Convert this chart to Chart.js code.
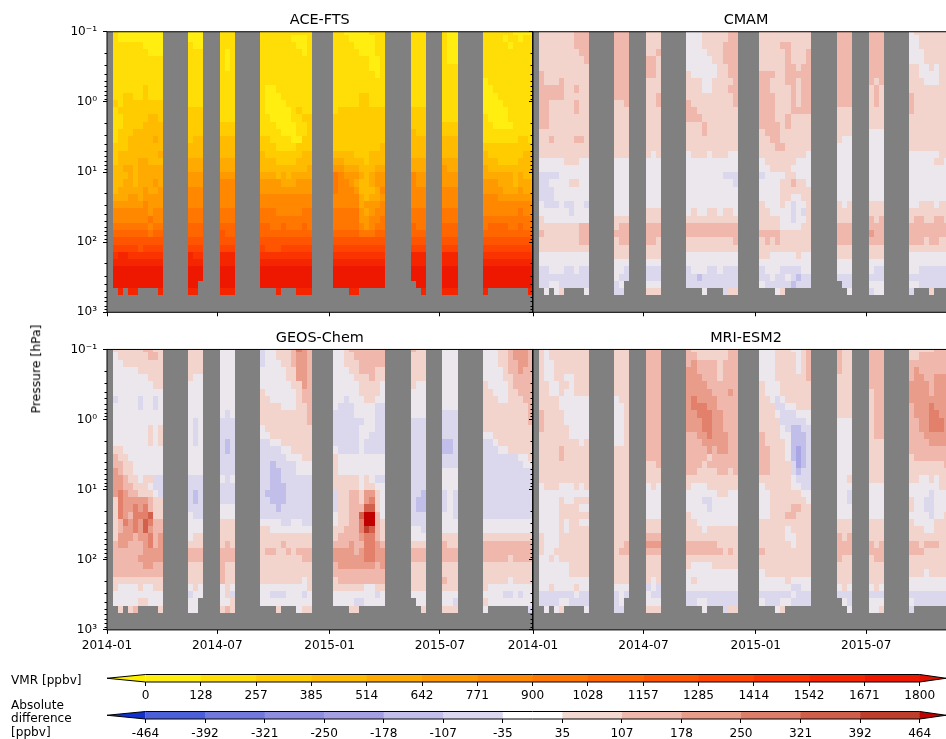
<!DOCTYPE html>
<html><head><meta charset="utf-8">
<script src="https://cdn.jsdelivr.net/npm/chart.js@4"></script>
<style>
html,body{margin:0;padding:0;background:#fff;overflow:hidden;width:946px;height:739px}
#page{position:relative;width:946px;height:739px;overflow:hidden;font-family:"DejaVu Sans",sans-serif;font-size:12.1px;color:#000}
.box{position:absolute}
.box canvas{display:block}
.lab{position:absolute;white-space:nowrap;line-height:13.7px}
</style></head><body>
<div id="page">
<div class="box" style="left:0;top:0;width:560px;height:340px"><canvas id="c0"></canvas></div>
<div class="box" style="left:480px;top:0;width:500px;height:340px"><canvas id="c1"></canvas></div>
<div class="box" style="left:0;top:320px;width:560px;height:340px"><canvas id="c2"></canvas></div>
<div class="box" style="left:480px;top:320px;width:500px;height:340px"><canvas id="c3"></canvas></div>
<div class="box" style="left:0;top:666px;width:946px;height:36px"><canvas id="cb0"></canvas></div>
<div class="box" style="left:0;top:703px;width:946px;height:36px"><canvas id="cb1"></canvas></div>
<div class="lab" style="left:36px;top:369px;font-size:12.4px;transform:translate(-50%,-50%) rotate(-90deg)">Pressure [hPa]</div>
<div class="lab" style="left:11px;top:674px">VMR [ppbv]</div>
<div class="lab" style="left:11px;top:698.5px">Absolute<br>difference<br>[ppbv]</div>
</div>
<script>
// ---- time axis (days since 2014-01-01) ----
const xTickLabels = ["2014-01","2014-07","2015-01","2015-07"];
const xTickDays = [0,181,365,546];
const xMaxDays = 698;
// measurement windows, days since start; column counts per window
const windowStart = [9.5,133,185,251,371,498,550,616];
const windowEnd   = [92,158,210,336,456,523,575,698];
const windowCols  = [10,3,3,10,10,3,3,10];
// ---- pressure grid (hPa), edges of the 37 rows ----
const pressureEdges = [0.1,0.1103,0.1398,0.1773,0.2249,0.2852,0.3618,0.4587,0.5816,0.7376,0.9354,1.186,1.504,1.908,2.420,3.068,3.891,4.934,6.257,7.935,10.06,12.76,16.19,20.53,26.04,33.02,41.87,53.10,67.34,85.40,108.3,137.3,174.2,220.9,280.1,355.2,450.5,571.3];
const yMajorTicks = [0.1,1,10,100,1000];
const yMajorLabels = ["10⁻¹","10⁰","10¹","10²","10³"];
const yMinorTicks = [0.2,0.3,0.4,0.5,0.6,0.7,0.8,0.9,2,3,4,5,6,7,8,9,20,30,40,50,60,70,80,90,200,300,400,500,600,700,800,900];
// ---- colour scales ----
const vmrBounds = [0,128.57,257.14,385.71,514.29,642.86,771.43,900,1028.57,1157.14,1285.71,1414.29,1542.86,1671.43,1800];
const vmrTickLabels = ["0","128","257","385","514","642","771","900","1028","1157","1285","1414","1542","1671","1800"];
const vmrColors = ["#FFEE10","#FFDE08","#FFCC00","#FFBB00","#FFAA00","#FF9900","#FF8800","#FF7700","#FF6600","#FF5500","#FF4400","#FB3300","#F52500","#EE1800"];
const vmrOver = "#E01000", vmrUnder = "#FFF000";
const diffBounds = [-464,-392.6,-321.2,-249.8,-178.5,-107.1,-35.7,35.7,107.1,178.5,249.8,321.2,392.6,464];
const diffTickLabels = ["-464","-392","-321","-250","-178","-107","-35","35","107","178","250","321","392","464"];
const diffColors = ["#4A5FD8","#7079DC","#8E8FE0","#A9A6E5","#C1BEEA","#DBD8EE","#ECE7EC","#F3D4CC","#F0B8AC","#EA9C8B","#E2806C","#D2604B","#C33F2D"];
const diffBarColors = ["#4A5FD8","#7079DC","#8E8FE0","#A59FE3","#C3BFEB","#DAD7EE","#FFFFFF","#F3D8D0","#EFB8AC","#E89C8A","#DD7E6A","#CF5F4B","#BE3D2B"];
const diffOver = "#C00000", diffUnder = "#1030D0";
// ---- gridded values: one string per pressure row (top to bottom), one character per
// time column, each character the colour-bin number; "." = no data
const aceFts = [
"1000000000 000 111 1111111111 1100000111 111 100 1111110000",
"1000000000 000 111 1111110001 1110000011 111 100 1111011011",
"1111110000 100 111 1111111001 1111000011 111 100 1111101111",
"1111111000 111 101 1111111101 1111100011 111 100 1111111111",
"1111111111 111 101 1111111111 1111111001 111 100 1111111111",
"1111111111 111 101 1111111111 1111111001 111 111 1111111111",
"1111111111 111 111 1111111111 1111111101 111 111 1111111111",
"1111111111 111 111 1111111111 1111111111 111 111 0111111111",
"1111112111 111 111 1001111111 1111111111 111 111 0011111111",
"1122112111 111 111 1000111111 1111122111 111 111 0001111111",
"2122222222 111 111 1000011111 1111122111 111 111 0000111111",
"1222222222 222 111 1000001211 1222222222 222 111 0000011111",
"1122222332 222 111 1100001122 2222222222 222 111 1000011111",
"1122223333 222 222 1110000112 2222222222 222 222 1100001111",
"1222333333 222 222 1111000112 2222222222 322 222 1111111111",
"1223333343 233 333 2211110022 2222222222 333 333 1111111221",
"2223333333 333 333 2221111222 2222222223 333 333 2222222222",
"2333333334 333 333 3222222233 3333222333 333 333 3222222233",
"2333344333 444 444 3332222333 4433332333 444 444 3332222333",
"3344344444 444 444 3333333334 5544433344 444 544 4333333333",
"3334344444 555 555 4443434444 7655543455 655 555 4444443433",
"3344344454 555 666 5555444555 7665433455 655 555 5554443444",
"3444445445 666 666 5555555555 7666533346 666 666 5555444544",
"4445545555 666 666 6666666666 6666643445 666 666 6665555555",
"5555556555 666 666 6666666666 6666645556 666 666 6666666666",
"6666666566 777 777 7776666677 7777754566 777 777 6666666766",
"6666666766 777 777 7777777777 7777755667 777 777 7777777777",
"7777777677 888 888 8877877787 7777765677 877 888 7888877877",
"8888888788 888 988 8888888888 8888877788 888 888 8888888888",
"9999999999 999 999 9999999999 9999999999 999 999 9999999999",
"aaaaa9aaaa aaa aaa a999aaaaaa aaaaaaaaaa aaa aaa aaaaaaaaaa",
"bccbbbbbbb cbb ccc bbbbbbbbbb bbbbbbbbbb ccc ccc bbbbbbbbbb",
"cccccccccc ccc ccc cccccccccc cccccccccc ccc ccc cccccccccc",
"dddddddddd ddd ddd dddddddddd dddddddddd ddd ddd dddddddddd",
"dddddddddd ddd ddd dddddddddd dddddddddd ddd ddd dddddddddd",
"dddddddddd dd. ddd dddddddddd dddddddddd .dd ddd dddddddddd",
".c.cc....c cc. ccc ...c...ccc ...cc..... ..c ccc c........c"];
const cmam = [
"7777777888 888 777 6667777788 7777777777 888 888 6777777777",
"7777777888 888 777 6667777788 7777777777 888 888 6677777777",
"7777777888 888 777 6667777888 7777887777 888 888 6677777777",
"7777777788 888 778 6666777888 7777787778 888 888 6667777777",
"7777777778 888 887 6666677888 7777787778 888 888 6667777777",
"7777777777 888 887 6666667788 7777788788 888 888 7766767777",
"8777777777 888 887 7666667788 8887788888 888 888 7766667777",
"8777877777 888 777 7776677778 8877788788 888 878 7776667777",
"8888877877 888 777 7776677788 8877778788 888 787 7777777777",
"8888877777 888 778 7777777778 8887778788 888 787 8777777777",
"8877777877 778 778 8777777778 8887778788 888 787 8777777777",
"8877777877 777 777 8877777777 8887778888 777 777 8777777777",
"8877777777 777 777 8887777777 8887787777 777 777 7777777777",
"8877777777 777 777 7778777777 8888787777 777 777 7777777777",
"7777777777 777 777 7778777777 7888777777 777 666 7777777777",
"7787777887 777 777 7777777777 7788777777 766 666 7777777777",
"7777777777 777 777 7777777777 7778877777 666 666 7777777777",
"7777777777 777 767 6777677766 7777777776 666 666 6666667777",
"6666677766 666 666 6666666666 6777777666 666 666 6666677677",
"6666666666 666 666 6666666666 6677776666 666 666 6666666677",
"5555666666 666 666 6666666555 5666677666 666 666 6666666677",
"5566667766 666 666 6666666665 6666778776 666 666 6666666677",
"5556666666 666 666 6666666666 6666777777 666 666 6666666677",
"5556666666 666 666 6666666666 6666776677 666 666 6666666677",
"6555655665 666 666 6666666666 7666765667 767 777 6677767777",
"6666665666 666 777 6766776776 7766665657 777 777 7777777777",
"7666666666 777 777 7777777777 7777665667 777 878 7887788777",
"7777777788 788 888 8888888888 7777666677 888 888 8888888888",
"8777777788 888 888 8888888888 8888777777 888 988 8888888888",
"7777777788 788 887 7777777778 7878777777 888 888 8887887777",
"7777777777 777 777 7777777777 7777777777 777 777 7777777777",
"6666666666 777 777 6666666666 7766666766 777 777 6666666666",
"6666666666 666 666 6666666666 6666666666 666 666 6666666666",
"5566655655 665 555 5666556555 5666555566 666 655 6655555555",
"5555555555 655 555 5545555555 5565565455 555 555 5555555555",
"5566555555 56. 666 5555555555 6555554555 .55 666 6655555555",
".6.67....6 55. 777 ...6...577 ...67..... ..6 566 5...7....5"];
const geosChem = [
"7777778877 777 666 5667778a98 6678888888 877 666 6667789998",
"6777777887 777 666 5667778998 6677888888 777 666 6667789998",
"6677777777 777 666 5666778998 6677788888 777 666 6667788998",
"6666677777 777 666 6666677998 6667788877 777 666 6666788988",
"6666666777 766 666 6666677998 6666777877 777 666 6666778888",
"6666666677 666 666 6666667798 6666677776 766 666 7666678888",
"6666666666 666 666 7666666788 6666677776 666 666 7766677888",
"5666656656 666 666 7766666788 6656667766 666 666 7776677788",
"6666656656 666 666 7777666778 6555666655 666 666 7777777778",
"6666666666 666 656 7777777778 5555666655 666 555 7777777778",
"6666666666 656 555 7777777778 5555556655 555 555 7777777778",
"6666666767 656 555 6777777777 5555566655 555 555 7777777777",
"6666666767 656 555 6677777777 5555566555 555 555 6677777777",
"6666666767 656 545 5566777777 5555565555 555 445 5567777777",
"7766666666 666 545 5555667777 6555565555 555 445 5556677777",
"8776666666 666 555 5555566677 7666666666 555 555 5555555667",
"8877666666 666 555 5545555666 7666666666 555 555 5555555566",
"9877666666 666 555 5544555666 7666666666 555 666 5555555555",
"9987767755 555 656 5544555555 7777767655 555 666 5555555555",
"9988777655 555 555 5544455555 7777767766 555 666 5555555555",
"9a98877765 545 555 5444455555 5778879976 554 565 5555555555",
"7a99999877 545 555 5544455555 5778879a76 544 565 5555555555",
"7a99a9a877 555 666 5554555555 577888bb76 544 565 5555555555",
"7a98aaab77 655 666 5555555555 67788bdd86 555 665 5555555555",
"78a9a9ba88 666 777 6666556655 67788add87 555 666 6666666666",
"7899a9b988 666 777 7766666666 77888acb87 665 666 6666666666",
"7999899a89 677 777 7777777777 788889aa87 666 777 7777777777",
"8998889a89 777 787 7777877777 888988aa98 777 877 8888888888",
"8888889999 888 888 7887787888 999989aa99 888 888 8888888888",
"8888899999 888 888 7777777788 999999aa99 888 888 8888878888",
"8888889988 777 877 7777777777 8999999989 777 777 7777777777",
"8888888888 777 877 7777777777 8888888888 777 777 7777777777",
"7777777777 777 877 7777777767 7888888888 777 877 7777767777",
"7666676677 676 676 6666666667 7777776677 777 777 7666666666",
"6666666666 566 675 6655566656 6666666656 666 666 6666556566",
"6666677666 66. 667 6666666666 6666556666 .66 665 7666666666",
".7.78....7 66. 787 ...7...677 ...77..... ..7 777 6........5"];
const mriEsm2 = [
"7677777777 777 888 8777777788 6667776678 877 888 7777788888",
"7677777777 777 888 8877777788 6667777678 877 888 7788888888",
"7667777777 777 888 8988887888 6667777678 877 888 8888888888",
"7667777777 777 888 9988887888 6667777678 877 888 8988888888",
"7667766777 777 888 9998887888 6667777778 777 888 8998899999",
"7766776777 777 888 9999888888 7666777777 777 888 9999899999",
"7766766777 777 888 9999988898 7666777777 777 788 9999899999",
"7777666666 677 888 9a99998888 7765677777 777 788 9999999999",
"7777666666 667 888 9aaa998888 7775566777 777 788 8999a99999",
"8777766666 667 888 99aaa99888 7776555666 777 788 8999aa9999",
"8777766666 667 888 999aa99888 7777555556 666 788 8899aaa999",
"8777776666 667 888 999aa99888 7777654455 666 788 8899aaa999",
"7777776666 667 888 8899a99988 8777664445 666 788 8889999999",
"7777777767 667 888 8889999988 8777764445 666 777 8888999999",
"7777877777 777 888 8888989988 8877764345 666 777 8888888888",
"7777877777 777 888 8888788888 8877764345 666 777 7888888888",
"7777777777 777 778 8887888888 8877775345 666 777 7777777888",
"7777777777 777 777 8877778878 8877775455 666 777 7777777777",
"7777777777 777 777 7777777777 7777776555 667 777 7766767777",
"6777666767 777 676 7666777777 6777776655 666 666 6666667777",
"6666666666 777 666 6666667766 6677777766 665 666 6666566677",
"6666766777 777 666 6665566666 6677777776 665 666 7665566677",
"6666777766 777 666 6666566666 6677778877 666 666 7665566677",
"6666777777 777 666 7666666666 6677788777 666 666 6666566777",
"6666767766 777 777 7766666666 7777777777 777 777 7666677777",
"6666767777 777 777 7776777777 7777767777 777 777 7776677777",
"7666777777 777 888 7777777777 7777766777 878 777 7777777777",
"7666777777 778 999 8888887777 7777776777 888 878 8878887777",
"7667777777 788 888 8888888787 8777777777 888 888 8887777777",
"6676777777 777 777 7777777777 7777777777 877 788 7777777777",
"6666667777 777 777 7666677777 7777777777 777 777 7777777777",
"6666667777 777 777 6666666666 6777777777 777 777 7776777777",
"6666666666 777 767 6766666666 6666676666 777 777 6666666666",
"6676666766 666 565 6666666666 6666665566 676 676 6666666666",
"5555555655 565 655 5555555555 5555556555 555 555 5555555555",
"5555665555 56. 666 5566555555 6555665555 .65 666 6555555555",
".6.67....6 55. 777 ...6...577 ...67..... ..6 667 5........."];

const FONT = {family:'"DejaVu Sans",sans-serif',size:12.1};
function binValue(ch,bounds){
  const b = parseInt(ch,16);
  if(b >= bounds.length-1) return bounds[bounds.length-1]+1;
  return (bounds[b]+bounds[b+1])/2;
}
function colorFor(v,bounds,colors,over,under){
  if(v>bounds[bounds.length-1]) return over;
  if(v<bounds[0]) return under;
  for(let i=0;i<colors.length;i++) if(v<=bounds[i+1]) return colors[i];
  return over;
}
function buildCells(rows,bounds){
  const cells=[];
  rows.forEach((row,r)=>{
    const s=row.replace(/ /g,'');
    let k=0;
    windowCols.forEach((n,w)=>{
      const step=(windowEnd[w]-windowStart[w])/n;
      for(let j=0;j<n;j++,k++){
        if(s[k]==='.'||s[k]===undefined) continue;
        const t0=windowStart[w]+j*step;
        cells.push({x:t0,t1:t0+step,y:Math.sqrt(pressureEdges[r]*pressureEdges[r+1]),p0:pressureEdges[r],p1:pressureEdges[r+1],v:binValue(s[k],bounds)});
      }
    });
  });
  return cells;
}
const heatPlugin={id:'heat',
  beforeDatasetsDraw(chart,args,o){
    const {ctx,chartArea:a,scales:{x,y}}=chart;
    ctx.save();
    ctx.fillStyle='#808080';
    ctx.fillRect(a.left,a.top,a.right-a.left,a.bottom-a.top);
    ctx.beginPath();ctx.rect(a.left,a.top,a.right-a.left,a.bottom-a.top);ctx.clip();
    chart.data.datasets[0].data.forEach(c=>{
      const x0=Math.round(x.getPixelForValue(c.x)),x1=Math.round(x.getPixelForValue(c.t1));
      const y0=Math.round(y.getPixelForValue(c.p0)),y1=Math.round(y.getPixelForValue(c.p1));
      ctx.fillStyle=colorFor(c.v,o.bounds,o.colors,o.over,o.under);
      ctx.fillRect(x0,y0,x1-x0,y1-y0);
    });
    ctx.restore();
  },
  afterDraw(chart){
    const {ctx,chartArea:a,scales:{y}}=chart;
    ctx.save();
    ctx.strokeStyle='#000';ctx.lineWidth=1;
    ctx.strokeRect(a.left,a.top,a.right-a.left,a.bottom-a.top);
    ctx.beginPath();
    yMinorTicks.forEach(p=>{
      const py=Math.round(y.getPixelForValue(p))+0.5;
      ctx.moveTo(a.left-2.5,py);ctx.lineTo(a.left,py);
    });
    ctx.stroke();
    ctx.restore();
  }
};
function panel(id,title,rows,bounds,colors,over,under,opt){
  return new Chart(document.getElementById(id),{
    type:'scatter',
    data:{datasets:[{data:buildCells(rows,bounds),pointRadius:0,pointHoverRadius:0,showLine:false}]},
    plugins:[heatPlugin],
    options:{
      responsive:false,animation:false,events:[],devicePixelRatio:1,
      layout:{padding:opt.pad},
      plugins:{
        legend:{display:false},tooltip:{enabled:false},
        title:{display:true,text:title,fullSize:false,color:'#000',font:{family:FONT.family,size:14.4,weight:'normal',lineHeight:1.17},padding:{top:0,bottom:3}},
        heat:{bounds,colors,over,under}
      },
      scales:{
        x:{type:'linear',min:0,max:xMaxDays,
          afterBuildTicks:s=>{s.ticks=xTickDays.map(v=>({value:v}));},
          afterFit:s=>{s.height=24;s.paddingLeft=0;s.paddingRight=0;},
          border:{display:false},
          grid:{drawOnChartArea:false,drawTicks:true,tickLength:4,tickColor:'#000',tickWidth:1},
          ticks:{autoSkip:false,maxRotation:0,minRotation:0,color:'#000',font:FONT,padding:5,
            callback:(v,i)=>opt.xLabels?xTickLabels[i]:''}
        },
        y:{type:'logarithmic',reverse:true,min:0.1,max:1000,
          afterBuildTicks:s=>{s.ticks=yMajorTicks.map(v=>({value:v}));},
          afterFit:s=>{s.width=opt.yWidth;s.paddingTop=0;s.paddingBottom=0;},
          border:{display:false},
          grid:{drawOnChartArea:false,drawTicks:true,tickLength:4,tickColor:'#000',tickWidth:1},
          ticks:{autoSkip:false,color:'#000',font:{family:FONT.family,size:12.1},padding:6,
            callback:(v,i)=>opt.yLabels?yMajorLabels[i]:''}
        }
      }
    }
  });
}
const sizes=[[560,340],[500,340],[560,340],[500,340]];
['c0','c1','c2','c3'].forEach((id,i)=>{const c=document.getElementById(id);c.width=sizes[i][0];c.height=sizes[i][1];c.style.width=sizes[i][0]+'px';c.style.height=sizes[i][1]+'px';});
panel('c0','ACE-FTS',aceFts,vmrBounds,vmrColors,vmrOver,vmrUnder,{xLabels:false,yLabels:true,yWidth:50,pad:{left:57,right:27.4,top:11.9,bottom:3.7}});
panel('c1','CMAM',cmam,diffBounds,diffColors,diffOver,diffUnder,{xLabels:false,yLabels:false,yWidth:10,pad:{left:43,right:21,top:11.9,bottom:3.7}});
panel('c2','GEOS-Chem',geosChem,diffBounds,diffColors,diffOver,diffUnder,{xLabels:true,yLabels:true,yWidth:50,pad:{left:57,right:27.4,top:9.6,bottom:6.1}});
panel('c3','MRI-ESM2',mriEsm2,diffBounds,diffColors,diffOver,diffUnder,{xLabels:true,yLabels:false,yWidth:10,pad:{left:43,right:21,top:9.6,bottom:6.1}});

const colorbarPlugin={id:'cbar',
  afterDraw(chart,args,o){
    const {ctx,chartArea:a,scales:{x}}=chart;
    const midY=(a.top+a.bottom)/2;
    ctx.save();
    o.colors.forEach((col,i)=>{
      ctx.fillStyle=col;
      const x0=x.getPixelForValue(o.bounds[i]),x1=x.getPixelForValue(o.bounds[i+1]);
      ctx.fillRect(x0,a.top,x1-x0+0.5,a.bottom-a.top);
    });
    const tipL=o.tipLeft,tipR=o.tipRight;
    ctx.fillStyle=o.under;ctx.beginPath();ctx.moveTo(a.left,a.top);ctx.lineTo(tipL,midY);ctx.lineTo(a.left,a.bottom);ctx.closePath();ctx.fill();
    ctx.fillStyle=o.over;ctx.beginPath();ctx.moveTo(a.right,a.top);ctx.lineTo(tipR,midY);ctx.lineTo(a.right,a.bottom);ctx.closePath();ctx.fill();
    ctx.strokeStyle='#000';ctx.lineWidth=1;
    ctx.beginPath();ctx.moveTo(a.left,a.top);ctx.lineTo(a.right,a.top);ctx.lineTo(tipR,midY);ctx.lineTo(a.right,a.bottom);ctx.lineTo(a.left,a.bottom);ctx.lineTo(tipL,midY);ctx.closePath();ctx.stroke();
    ctx.restore();
  }
};
function colorbar(id,bounds,labels,colors,over,under,pad){
  const c=document.getElementById(id);c.width=946;c.height=36;c.style.width='946px';c.style.height='36px';
  return new Chart(c,{
    type:'scatter',
    data:{datasets:[{data:[],pointRadius:0}]},
    plugins:[colorbarPlugin],
    options:{
      responsive:false,animation:false,events:[],devicePixelRatio:1,
      layout:{padding:{left:145.5,right:26.3,top:8.5,bottom:0}},
      plugins:{legend:{display:false},tooltip:{enabled:false},title:{display:false},
        cbar:{bounds,colors,over,under,tipLeft:107,tipRight:946}},
      scales:{
        x:{type:'linear',min:bounds[0],max:bounds[bounds.length-1],
          afterBuildTicks:s=>{s.ticks=bounds.map(v=>({value:v}));},
          afterFit:s=>{s.height=20;s.paddingLeft=0;s.paddingRight=0;},
          border:{display:false},
          grid:{drawOnChartArea:false,drawTicks:true,tickLength:4,tickColor:'#000',tickWidth:1},
          ticks:{autoSkip:false,maxRotation:0,minRotation:0,color:'#000',font:FONT,padding:pad,callback:(v,i)=>labels[i]}
        },
        y:{display:false,min:0,max:1}
      }
    }
  });
}
colorbar('cb0',vmrBounds,vmrTickLabels,vmrColors,vmrOver,vmrUnder,3);
colorbar('cb1',diffBounds,diffTickLabels,diffBarColors,diffOver,diffUnder,3.5);
</script>
</body></html>
